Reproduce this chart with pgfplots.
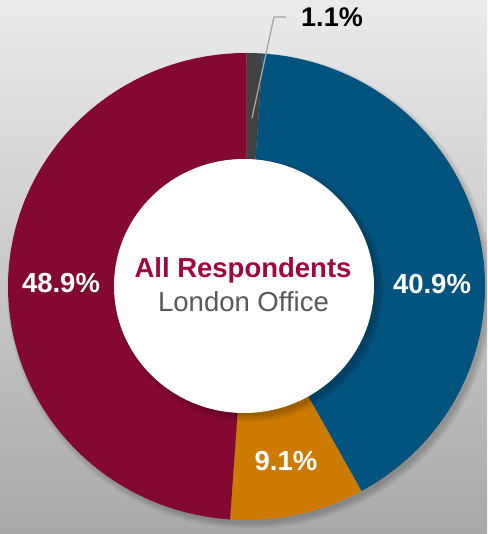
\documentclass[border=0pt]{standalone}
\usepackage{pgfplots}
\pgfplotsset{compat=1.18}
\usepackage{fontspec}
\setmainfont{Liberation Sans}
\definecolor{bgtop}{HTML}{EBEBEB}
\definecolor{bgbot}{HTML}{A9A9A9}
\definecolor{cgray}{HTML}{404244}
\definecolor{cblue}{HTML}{02547F}
\definecolor{corange}{HTML}{CC7A00}
\definecolor{ccrim}{HTML}{830832}
\definecolor{ttitle}{HTML}{A0073F}
\definecolor{tsub}{HTML}{595959}
\definecolor{lead}{HTML}{A6A6A6}
% data (percent)
\def\vA{1.1}\def\vB{40.9}\def\vC{9.1}\def\vD{48.9}
\pgfmathsetmacro\aO{90}
\pgfmathsetmacro\aA{90-3.6*\vA}
\pgfmathsetmacro\aB{\aA-3.6*\vB}
\pgfmathsetmacro\aC{\aB-3.6*\vC}
\pgfmathsetmacro\aD{\aC-3.6*\vD}
\def\cx{246.5}\def\cy{247.5}
\newcommand\pieslice[3]{\fill[#3] (axis cs:\cx,\cy) -- ++(#1:238.5pt and 233.5pt) arc[start angle=#1, end angle=#2, x radius=238.5pt, y radius=233.5pt] -- cycle;}
\begin{document}
\begin{tikzpicture}
\begin{axis}[hide axis, scale only axis, x=1pt, y=1pt, xmin=0, xmax=487, ymin=0, ymax=534]
\shade[top color=bgtop, bottom color=bgbot] (axis cs:0,0) rectangle (axis cs:487,534);
\pgfplotsinvokeforeach{1,...,6}{
  \fill[black, opacity=0.035] (axis cs:250,243) ellipse [x radius=236pt+#1*1.2pt, y radius=231pt+#1*1.2pt];
}
\pieslice{\aO}{\aA}{cgray}
\pieslice{\aA}{\aB}{cblue}
\pieslice{\aB}{\aC}{corange}
\pieslice{\aC}{\aD}{ccrim}
\pgfplotsinvokeforeach{1,...,6}{
  \fill[black, opacity=0.04] (axis cs:249,244) ellipse [x radius=127pt+#1*1.3pt, y radius=124pt+#1*1.3pt];
}
\fill[white] (axis cs:244,248) ellipse [x radius=130pt, y radius=127pt];
\draw[lead, line width=1.3pt] (axis cs:252,416) -- (axis cs:274,517) -- (axis cs:286,517);
\node[anchor=base, inner sep=0, font=\fontsize{27}{32}\selectfont\bfseries] at (axis cs:332,507) {1.1\%};
\node[anchor=base, inner sep=0, text=white, font=\fontsize{27.5}{32}\selectfont\bfseries] at (axis cs:61,241) {48.9\%};
\node[anchor=base, inner sep=0, text=white, font=\fontsize{27.5}{32}\selectfont\bfseries] at (axis cs:432,240) {40.9\%};
\node[anchor=base, inner sep=0, text=white, font=\fontsize{27.5}{32}\selectfont\bfseries] at (axis cs:286,63) {9.1\%};
\node[anchor=base, inner sep=0, text=ttitle, font=\fontsize{27.5}{32}\selectfont\bfseries] at (axis cs:243,256) {All Respondents};
\node[anchor=base, inner sep=0, text=tsub, font=\fontsize{27.5}{32}\selectfont] at (axis cs:243.5,222) {London Office};
\end{axis}
\end{tikzpicture}
\end{document}
